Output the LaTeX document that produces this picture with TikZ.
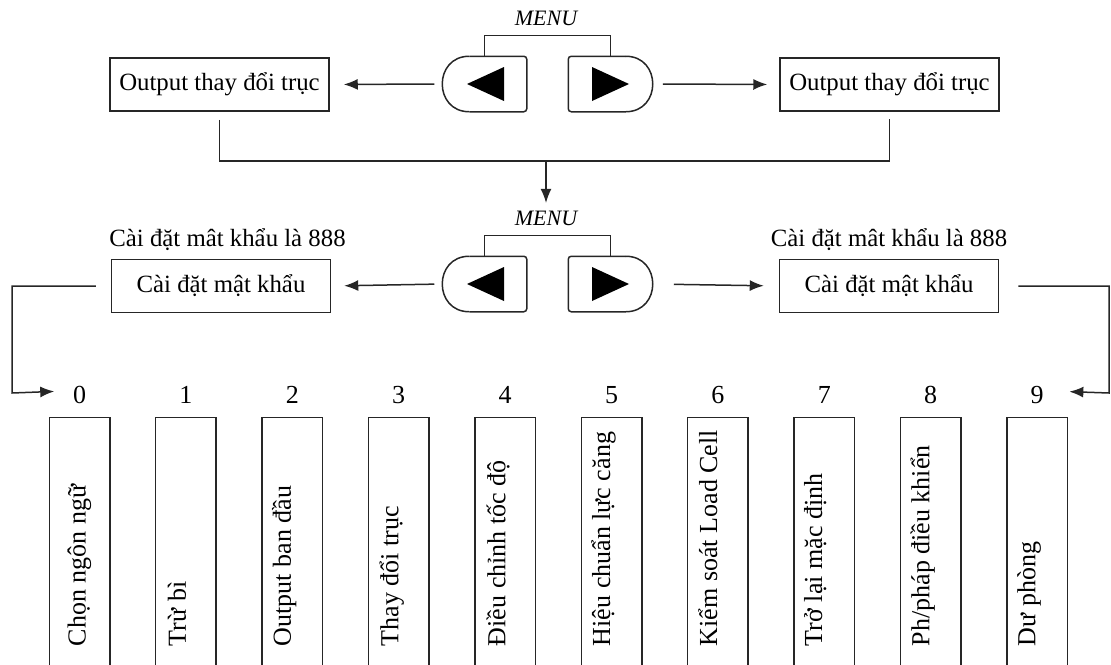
\documentclass[tikz,border=0pt]{standalone}
\usepackage{fontspec}
\setmainfont{Liberation Serif}
\usepackage{tikz}
\usetikzlibrary{arrows.meta}
\usetikzlibrary{calc}
\usetikzlibrary{positioning}

\begin{document}
\begin{tikzpicture}[
			x=0.5pt, y=-0.5pt,
			line width=0.75pt, draw=black!85,
			every node/.style={inner sep=0pt, font=\fontsize{12.4}{14}\selectfont},
			box/.style={draw, minimum width=109.5pt, minimum height=26.5pt},
			btn/.style={minimum width=41.5pt, minimum height=27pt},
			menulbl/.style={font=\fontsize{11}{13}\selectfont\itshape},
			item/.style={minimum width=29.5pt, minimum height=126pt},
			itemtxt/.style={rotate=90, anchor=west, font=\fontsize{13}{15}\selectfont},
			arr/.style={-{Latex[length=7pt, width=5.5pt]}}
		]
		\useasboundingbox (0,0) rectangle (1111,664);

		% boxes of the two upper rows
		\node[box] (o1) at (219.5,84.5) {Output thay đổi trục};
		\node[box] (o2) at (889.5,84.5) {Output thay đổi trục};
		\node[box] (pw1) at (221,286) {Cài đặt mật khẩu};
		\node[box] (pw2) at (889,286) {Cài đặt mật khẩu};
		\node (pl1) at (227.5,240) {Cài đặt mât khẩu là 888};
		\node (pl2) at (889,240) {Cài đặt mât khẩu là 888};

		% the two MENU keys
		\foreach \r/\y in {1/84, 2/284} {
				\node[btn] (bl\r) at (484.5,\y) {};
				\node[btn] (br\r) at (610.5,\y) {};
				\node[menulbl] (mn\r) at (546,\y-66) {MENU};
				\draw[rounded corners=1.5pt] ($(bl\r.north west)+(27,0)$) -- (bl\r.north east)
					-- (bl\r.south east) -- ($(bl\r.south west)+(27,0)$);
				\draw ($(bl\r.south west)+(27,0)$) .. controls ($(bl\r.south west)+(-9,0)$)
					and ($(bl\r.north west)+(-9,0)$) .. ($(bl\r.north west)+(27,0)$);
				\draw[rounded corners=1.5pt] ($(br\r.north east)+(-27,0)$) -- (br\r.north west)
					-- (br\r.south west) -- ($(br\r.south east)+(-27,0)$);
				\draw ($(br\r.south east)+(-27,0)$) .. controls ($(br\r.south east)+(9,0)$)
					and ($(br\r.north east)+(9,0)$) .. ($(br\r.north east)+(-27,0)$);
				\fill ($(bl\r)+(-17.5,0)$) -- ($(bl\r)+(19.5,-17)$) -- ($(bl\r)+(19.5,17)$) -- cycle;
				\fill ($(br\r)+(18.5,0)$) -- ($(br\r)+(-18.5,-17)$) -- ($(br\r)+(-18.5,17)$) -- cycle;
				\draw (bl\r.north) -- ++(0,-21) -| (br\r.north);
			}

		% arrows from the keys
		\draw[arr, shorten <=4pt, shorten >=7pt] (bl1.west) -- (o1.east);
		\draw[arr, shorten <=5pt, shorten >=6pt] (br1.east) -- (o2.west);
		\draw[arr, shorten <=4pt, shorten >=6.5pt] (bl2.west) -- (pw1.east);
		\draw[arr, shorten <=10.5pt, shorten >=7.5pt] (br2.east) -- (pw2.west);

		% joining line down to the second MENU
		\coordinate (j) at (546,161);
		\draw[shorten <=4pt, shorten >=3.5pt] (o1.south) |- (j) -| (o2.south);
		\draw[arr, shorten >=3.5pt] (j) -- (mn2.north);

		% the items 0 to 9
		\foreach \i/\dx/\txt in {0/0/Chọn ngôn ngữ, 1/-9/Trừ bì, 2/-8/Output ban đầu,
				3/-7/Thay đổi trục, 4/-7/Điều chỉnh tốc độ, 5/-8/Hiệu chuẩn lực căng,
				6/-10/Kiểm soát Load Cell, 7/-9/Trở lại mặc định,
				8/-8/{Ph/pháp điều khiển}, 9/-8/Dư phòng} {
				\node[item] (b\i) at ({79.5+106.4*\i},544) {};
				\draw (b\i.south west) -- (b\i.north west) -- (b\i.north east) -- (b\i.south east);
				\node[above=6.5pt of b\i, font=\fontsize{13}{15}\selectfont] (n\i) {\i};
				\node[itemtxt] (t\i) at ($(b\i.south)+(\dx,-24)$) {\txt};
			}

		% links to 0 and 9
		\draw[arr, shorten <=7.5pt, shorten >=9pt] (pw1.west) -| (12,393) -- ([yshift=2pt]n0.west);
		\draw[arr, shorten <=9.5pt, shorten >=12.5pt] (pw2.east) -| (1109,393) -- ([yshift=2pt]n9.east);
	\end{tikzpicture}
\end{document}
